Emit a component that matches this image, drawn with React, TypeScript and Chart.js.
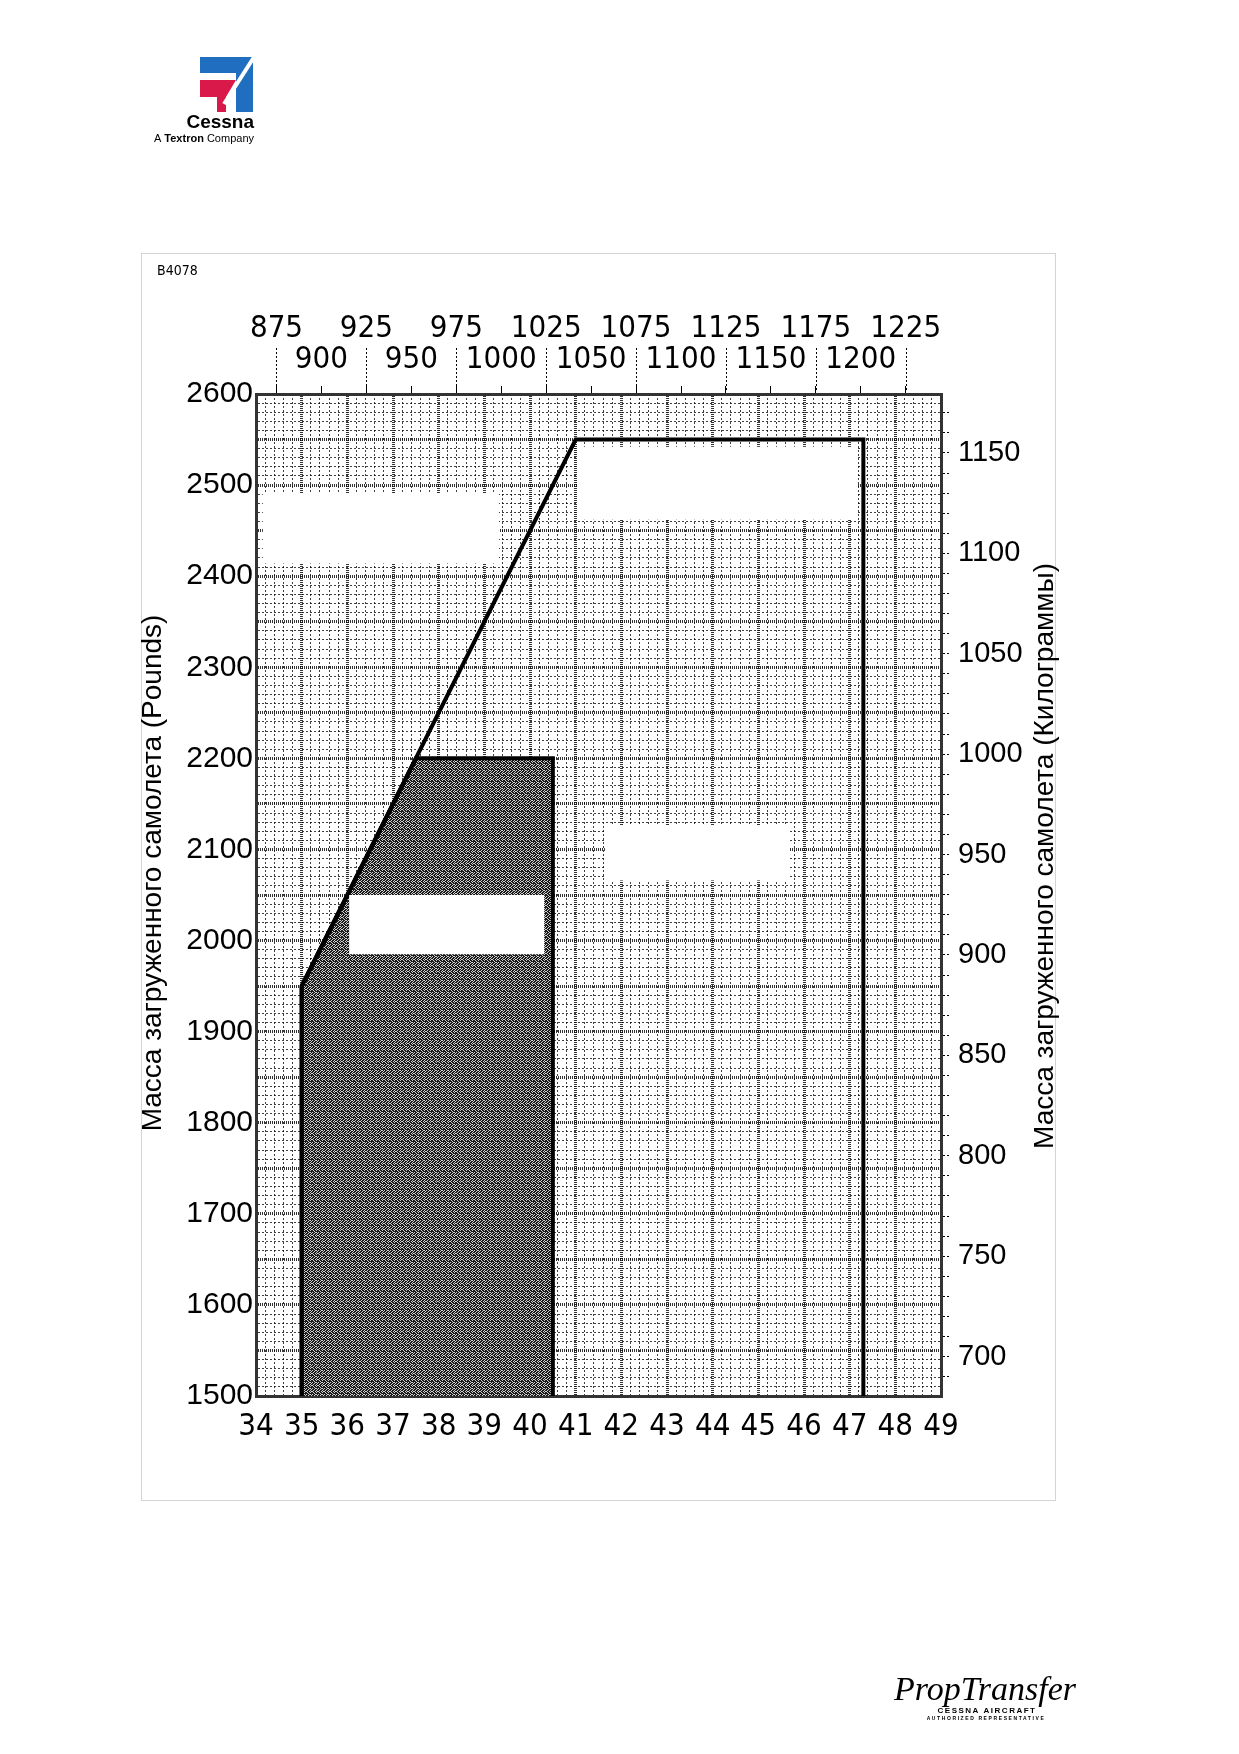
import React, { useEffect, useRef } from "react";
import { Chart, registerables } from "chart.js";

Chart.register(...registerables);

// ---- data ----
const cgTickLabels = [34, 35, 36, 37, 38, 39, 40, 41, 42, 43, 44, 45, 46, 47, 48, 49];
const lbTickLabels = [1500, 1600, 1700, 1800, 1900, 2000, 2100, 2200, 2300, 2400, 2500, 2600];
const kgTickLabels = [700, 750, 800, 850, 900, 950, 1000, 1050, 1100, 1150];
const mmTickLabels = [875, 900, 925, 950, 975, 1000, 1025, 1050, 1075, 1100, 1125, 1150, 1175, 1200, 1225];

// Normal category envelope (CG inches, weight lb)
const normalCG = [35, 35, 41.0, 47.3, 47.3];
const normalWeight = [1500, 1950, 2550, 2550, 1500];

// Utility category envelope (shaded)
const utilityCG = [35, 35, 37.5, 40.5, 40.5];
const utilityWeight = [1500, 1950, 2200, 2200, 1500];

// blanked-out label areas (CG from/to, weight from/to)
const maskCGFrom = [34.15, 41.05, 41.64, 36.04];
const maskCGTo = [39.32, 47.16, 45.69, 40.31];
const maskLbFrom = [2414, 2462, 2066, 1985];
const maskLbTo = [2491, 2542, 2126, 2050];

const LB_PER_KG = 2.20462262;
const MM_PER_IN = 25.4;

const NARROW = '"Liberation Sans Narrow", "Arial Narrow", "DejaVu Sans Condensed", "Liberation Sans", Arial, sans-serif';
const SANS = '"Liberation Sans", Arial, Helvetica, sans-serif';

const isMult = (v: number, m: number) => Math.abs(v / m - Math.round(v / m)) < 1e-6;

function range(from: number, to: number, step: number) {
  const out: number[] = [];
  const n = Math.round((to - from) / step);
  for (let i = 0; i <= n; i++) out.push(+(from + i * step).toFixed(4));
  return out;
}

function makePattern(): CanvasPattern | string {
  const c = document.createElement("canvas");
  const m = [
    [1, 0, 1, 1, 0, 1],
    [1, 1, 0, 1, 1, 1],
    [0, 1, 1, 0, 0, 1],
    [1, 1, 0, 1, 1, 0],
    [1, 0, 1, 1, 0, 1],
    [0, 1, 1, 0, 1, 0],
  ];
  c.width = 6;
  c.height = 6;
  const g = c.getContext("2d");
  if (!g) return "#555";
  for (let y = 0; y < 6; y++)
    for (let x = 0; x < 6; x++) {
      g.fillStyle = m[y][x] ? "#1a1a1a" : "#d0d0d0";
      g.fillRect(x, y, 1, 1);
    }
  return g.createPattern(c, "repeat") || "#555";
}

const gridColor = (major: boolean) => (major ? "rgba(0,0,0,0.8)" : "rgba(0,0,0,0.75)");

const pagePlugin = {
  id: "pageDecor",
  afterDatasetsDraw(chart: any) {
    const { ctx } = chart;
    const x = chart.scales.x;
    const y = chart.scales.y;
    ctx.save();
    ctx.fillStyle = "#ffffff";
    for (let i = 0; i < maskCGFrom.length; i++) {
      const x0 = x.getPixelForValue(maskCGFrom[i]);
      const x1 = x.getPixelForValue(maskCGTo[i]);
      const y0 = y.getPixelForValue(maskLbTo[i]);
      const y1 = y.getPixelForValue(maskLbFrom[i]);
      ctx.fillRect(x0, y0, x1 - x0, y1 - y0);
    }
    ctx.restore();
  },
  afterDraw(chart: any) {
    const { ctx, chartArea } = chart;
    const top = chart.scales.xTop;
    ctx.save();

    // long tick lines of the mm scale
    ctx.strokeStyle = "#000";
    ctx.lineWidth = 1;
    ctx.setLineDash([2, 2]);
    for (const v of mmTickLabels) {
      if (isMult(v, 50)) continue;
      const px = Math.round(top.getPixelForValue(v)) + 0.5;
      ctx.beginPath();
      ctx.moveTo(px, chartArea.top - 46);
      ctx.lineTo(px, chartArea.top - 2);
      ctx.stroke();
    }
    ctx.setLineDash([]);

    // page frame
    ctx.strokeStyle = "#d4d4d4";
    ctx.lineWidth = 1;
    ctx.strokeRect(141.5, 253.5, 914, 1247);

    // drawing number
    ctx.fillStyle = "#000";
    ctx.font = "14px " + NARROW;
    ctx.textBaseline = "middle";
    ctx.textAlign = "left";
    ctx.fillText("B4078", 157, 271);

    // axis titles (both read bottom to top)
    ctx.font = "28px " + SANS;
    ctx.textAlign = "center";
    ctx.save();
    ctx.translate(chartArea.left - 103, chartArea.top + 479);
    ctx.rotate(-Math.PI / 2);
    ctx.fillText("Масса загруженного самолета (Pounds)", 0, 0);
    ctx.restore();
    ctx.save();
    ctx.translate(chartArea.right + 104, chartArea.top + 462);
    ctx.rotate(-Math.PI / 2);
    ctx.fillText("Масса загруженного самолета (Килограммы)", 0, 0);
    ctx.restore();

    // Cessna logo
    ctx.fillStyle = "#1f6ec0";
    ctx.beginPath();
    ctx.moveTo(200, 57);
    ctx.lineTo(253, 57);
    ctx.lineTo(253, 112);
    ctx.lineTo(236, 112);
    ctx.lineTo(236, 73);
    ctx.lineTo(200, 73);
    ctx.closePath();
    ctx.fill();
    ctx.fillStyle = "#d8194a";
    ctx.beginPath();
    ctx.moveTo(200, 80);
    ctx.lineTo(236, 80);
    ctx.lineTo(226, 97);
    ctx.lineTo(226, 112);
    ctx.lineTo(217, 112);
    ctx.lineTo(217, 97);
    ctx.lineTo(200, 97);
    ctx.closePath();
    ctx.fill();
    ctx.strokeStyle = "#fff";
    ctx.lineWidth = 4;
    ctx.beginPath();
    ctx.moveTo(256, 54);
    ctx.lineTo(224, 104);
    ctx.stroke();
    ctx.fillStyle = "#000";
    ctx.textAlign = "right";
    ctx.textBaseline = "alphabetic";
    ctx.font = "bold 19px " + SANS;
    ctx.fillText("Cessna", 254, 128);
    ctx.font = "11px " + SANS;
    const w1 = ctx.measureText(" Company").width;
    ctx.fillText(" Company", 254, 142);
    ctx.font = "bold 11px " + SANS;
    const w2 = ctx.measureText("Textron").width;
    ctx.fillText("Textron", 254 - w1, 142);
    ctx.font = "11px " + SANS;
    ctx.fillText("A ", 254 - w1 - w2, 142);

    // PropTransfer logo
    ctx.textAlign = "center";
    ctx.font = 'italic 34px "Liberation Serif", "DejaVu Serif", serif';
    ctx.fillText("PropTransfer", 985, 1700);
    ctx.font = "bold 8px " + SANS;
    (ctx as any).letterSpacing = "1.5px";
    ctx.fillText("CESSNA AIRCRAFT", 987, 1713);
    ctx.font = "bold 5px " + SANS;
    (ctx as any).letterSpacing = "1.6px";
    ctx.fillText("AUTHORIZED REPRESENTATIVE", 986, 1720);
    (ctx as any).letterSpacing = "0px";

    ctx.restore();
  },
};

export default function App() {
  const ref = useRef<HTMLCanvasElement | null>(null);

  useEffect(() => {
    const canvas = ref.current;
    if (!canvas) return;
    const pattern = makePattern();

    const cgGrid = range(34, 49, 0.2);
    const lbGrid = range(1500, 2600, 10);
    const kgTicks = range(690, 1170, 10);

    const chart = new Chart(canvas, {
      type: "scatter",
      data: {
        datasets: [
          {
            label: "Utility",
            data: utilityCG.map((v, i) => ({ x: v, y: utilityWeight[i] })),
            showLine: true,
            fill: "start",
            backgroundColor: pattern as any,
            borderColor: "#000",
            borderWidth: 4,
            borderJoinStyle: "miter",
            pointRadius: 0,
            order: 2,
          },
          {
            label: "Normal",
            data: normalCG.map((v, i) => ({ x: v, y: normalWeight[i] })),
            showLine: true,
            fill: false,
            borderColor: "#000",
            borderWidth: 4,
            borderJoinStyle: "miter",
            pointRadius: 0,
            order: 1,
          },
        ],
      },
      options: {
        responsive: false,
        animation: false,
        layout: { padding: { left: 156, right: 178, top: 294, bottom: 278 } },
        plugins: { legend: { display: false }, tooltip: { enabled: false } },
        scales: {
          x: {
            type: "linear",
            position: "bottom",
            min: 34,
            max: 49,
            afterBuildTicks: (s: any) => {
              s.ticks = cgGrid.map((v) => ({ value: v }));
            },
            afterFit: (s: any) => {
              s.height = 80;
            },
            ticks: {
              autoSkip: false,
              maxRotation: 0,
              minRotation: 0,
              padding: 12,
              color: "#000",
              font: { family: NARROW, size: 31 },
              callback: (v: any) => (isMult(v, 1) && cgTickLabels.includes(Math.round(v)) ? String(Math.round(v)) : ""),
            },
            grid: {
              drawTicks: false,
              color: (c: any) => gridColor(c.tick ? isMult(c.tick.value, 1) : false),
              lineWidth: (c: any) => (c.tick && isMult(c.tick.value, 1) ? 3 : 1),
            },
            border: {
              display: true,
              color: "#333",
              width: 3,
              dash: (c: any) => (c.tick && isMult(c.tick.value, 1) ? [1, 1] : [2, 2]),
            },
          },
          xTop: {
            type: "linear",
            position: "top",
            min: 34 * MM_PER_IN,
            max: 49 * MM_PER_IN,
            afterBuildTicks: (s: any) => {
              s.ticks = mmTickLabels.map((v) => ({ value: v }));
            },
            afterFit: (s: any) => {
              s.height = 100;
            },
            ticks: {
              autoSkip: false,
              maxRotation: 0,
              minRotation: 0,
              padding: 11,
              color: "#000",
              font: { family: NARROW, size: 31, lineHeight: 1.0 },
              callback: (v: any) => (isMult(v, 50) ? ["", String(v)] : [String(v), ""]),
            },
            grid: {
              drawOnChartArea: false,
              drawTicks: true,
              tickLength: 8,
              tickColor: "#000",
              tickWidth: 1,
            },
            border: { display: true, color: "#333", width: 3 },
          },
          y: {
            type: "linear",
            position: "left",
            min: 1500,
            max: 2600,
            afterBuildTicks: (s: any) => {
              s.ticks = lbGrid.map((v) => ({ value: v }));
            },
            afterFit: (s: any) => {
              s.width = 100;
            },
            ticks: {
              autoSkip: false,
              padding: 3,
              color: "#000",
              font: { family: SANS, size: 30 },
              callback: (v: any) => (lbTickLabels.includes(v) ? String(v) : ""),
            },
            grid: {
              drawTicks: false,
              color: (c: any) => gridColor(c.tick ? isMult(c.tick.value, 50) : false),
              lineWidth: (c: any) => (c.tick && isMult(c.tick.value, 50) ? 3 : 1),
            },
            border: {
              display: true,
              color: "#333",
              width: 3,
              dash: (c: any) => (c.tick && isMult(c.tick.value, 50) ? [1, 1] : [2, 2]),
            },
          },
          y2: {
            type: "linear",
            position: "right",
            min: 1500 / LB_PER_KG,
            max: 2600 / LB_PER_KG,
            afterBuildTicks: (s: any) => {
              s.ticks = kgTicks.map((v) => ({ value: v }));
            },
            afterFit: (s: any) => {
              s.width = 120;
            },
            ticks: {
              autoSkip: false,
              padding: 9,
              color: "#000",
              font: { family: SANS, size: 29 },
              callback: (v: any) => (kgTickLabels.includes(v) ? String(v) : ""),
            },
            grid: {
              drawOnChartArea: false,
              drawTicks: true,
              tickLength: 8,
              tickColor: "#000",
              tickWidth: 1,
              tickBorderDash: [2, 2],
            },
            border: { display: true, color: "#333", width: 3 },
          },
        },
      } as any,
      plugins: [pagePlugin],
    });

    return () => chart.destroy();
  }, []);

  return (
    <div style={{ position: "absolute", left: 0, top: 0, width: 1239, height: 1754, background: "#fff" }}>
      <canvas ref={ref} width={1239} height={1754} style={{ width: 1239, height: 1754, display: "block" }} />
    </div>
  );
}
